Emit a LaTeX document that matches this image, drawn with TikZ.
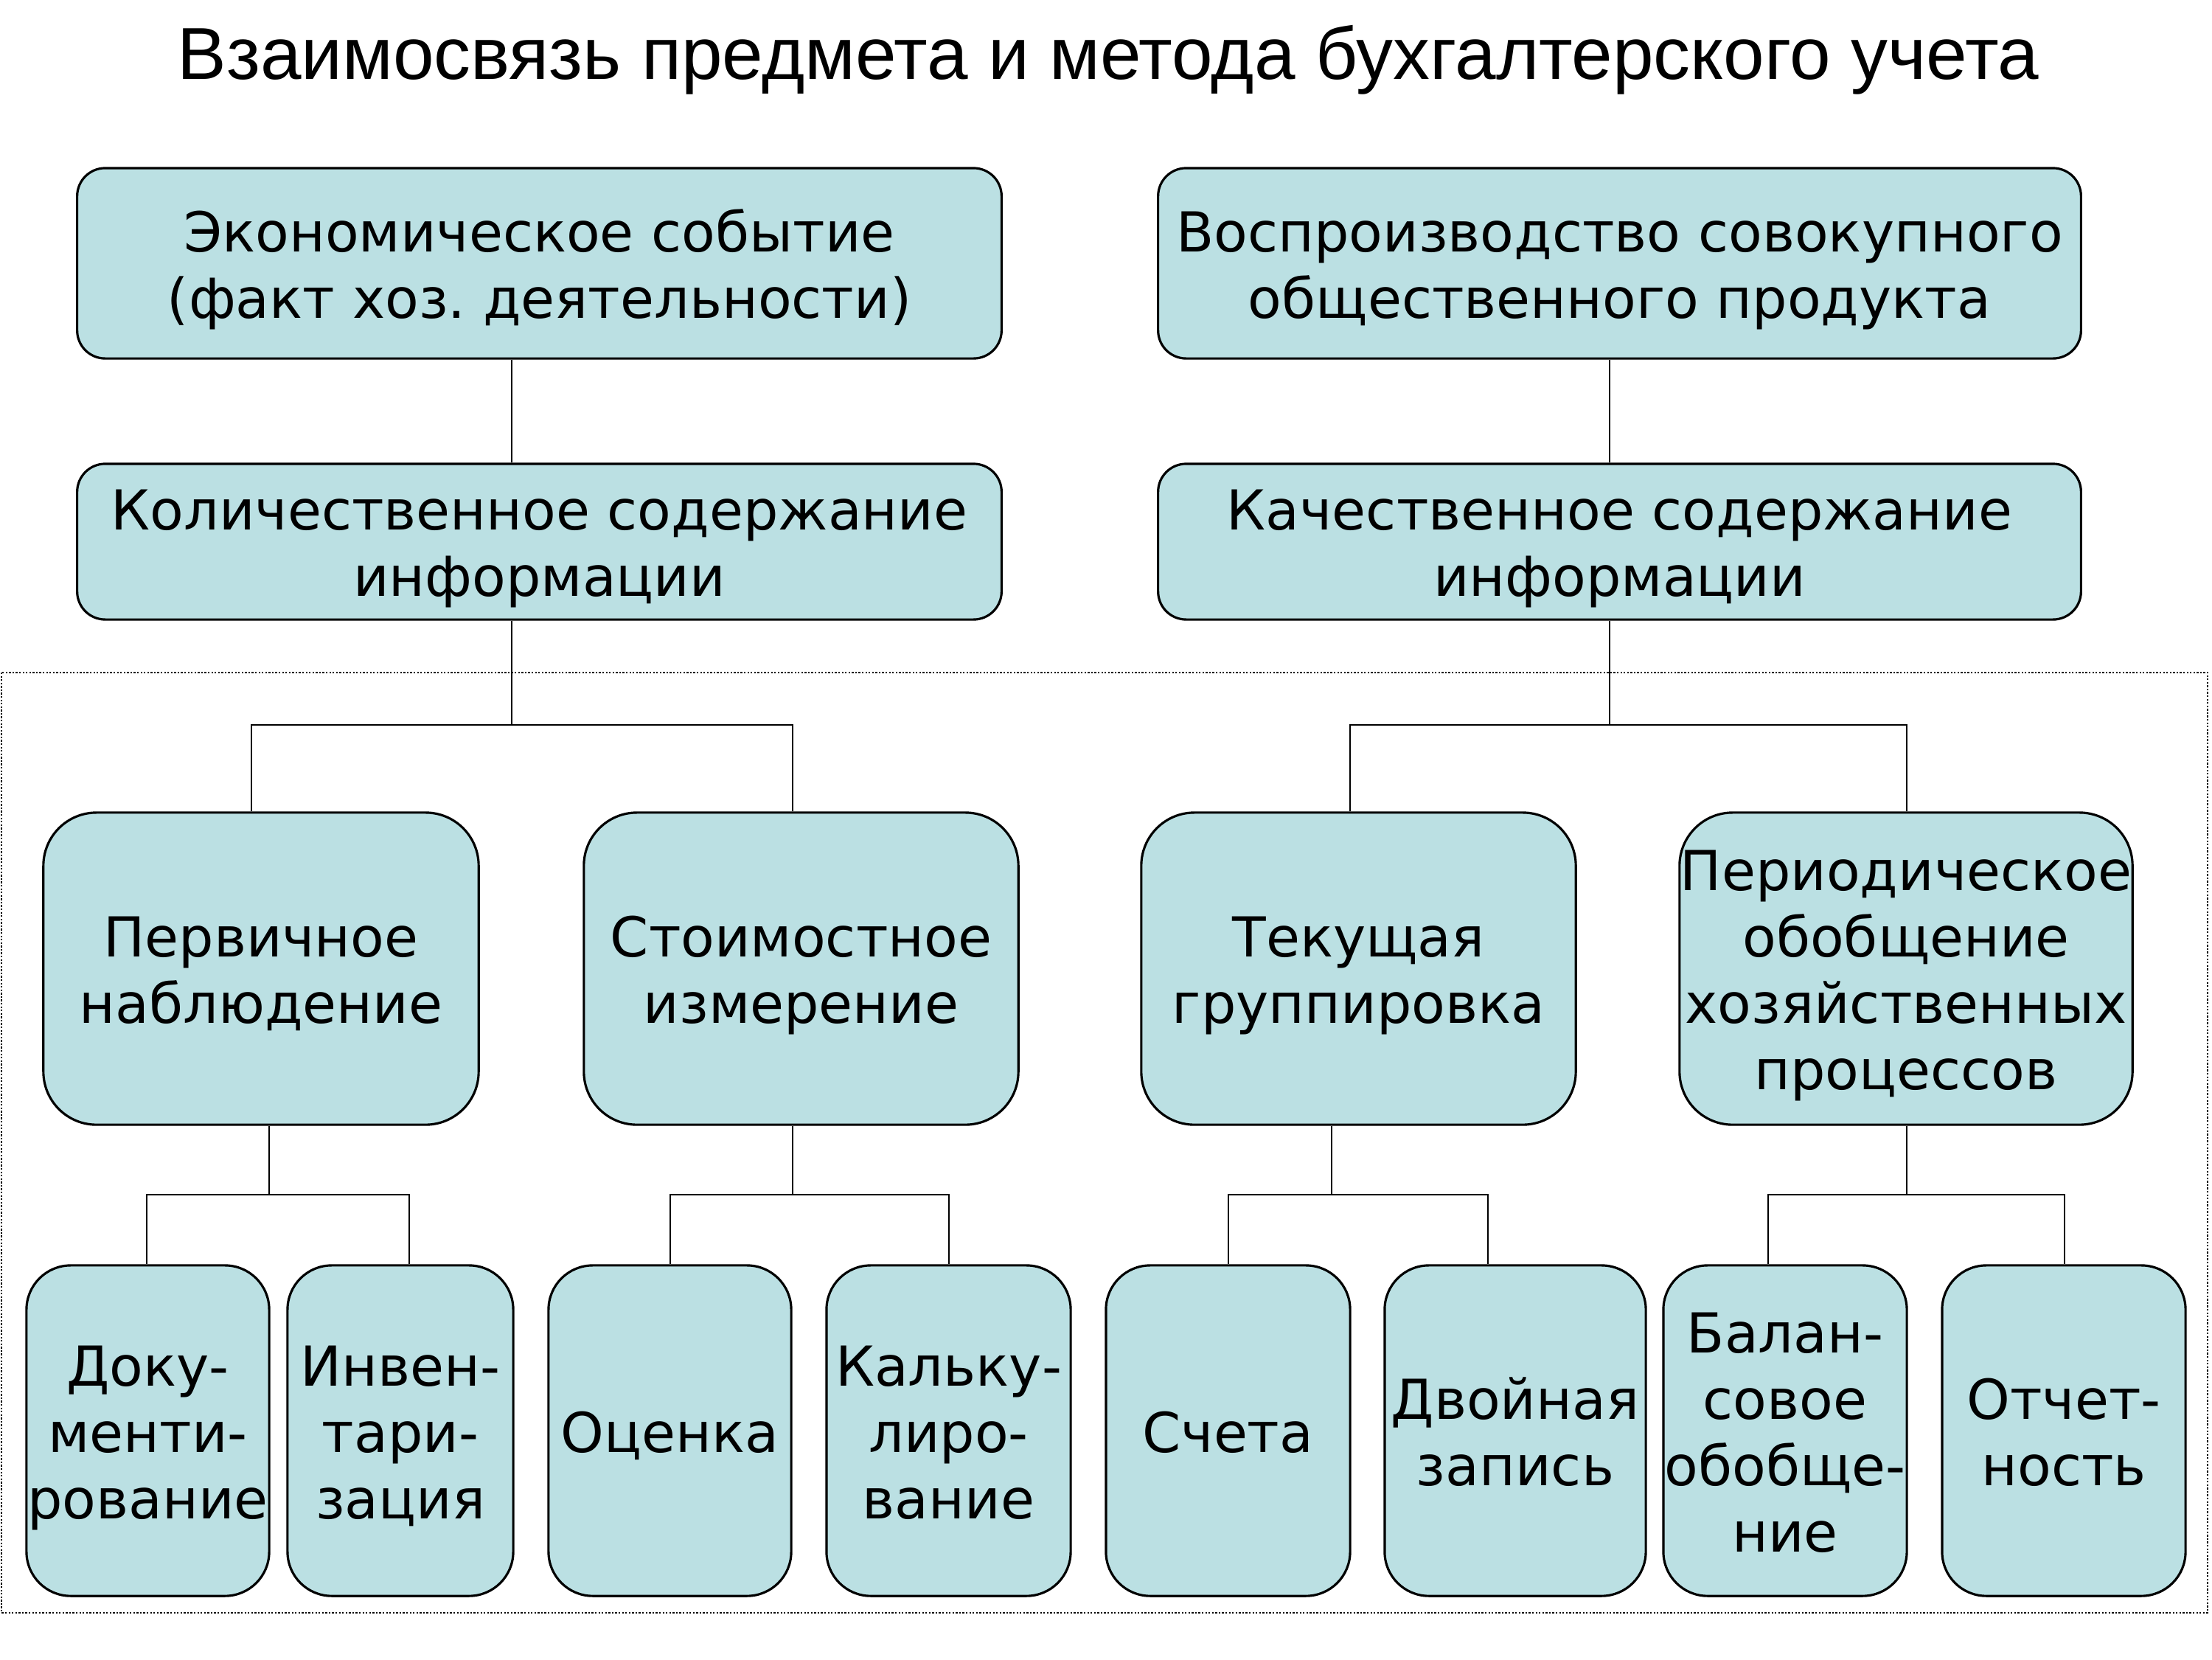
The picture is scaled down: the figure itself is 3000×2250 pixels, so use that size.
\documentclass[tikz,border=0pt]{standalone}
\usepackage{fontspec}
\setmainfont{DejaVu Sans}
\newfontfamily\titlefont{Liberation Sans}
\definecolor{boxfill}{HTML}{BBE0E3}
\newcommand\tS{\rule{0pt}{21pt}}
\newcommand\bS{\rule[-4.5pt]{0pt}{4.5pt}}
\begin{document}
\begin{tikzpicture}[x=0.01cm,y=-0.01cm,
  box/.style={draw=black, line width=0.9pt, fill=boxfill, align=center, inner sep=0pt,
    font=\fontsize{21.25}{25.6}\selectfont},
  boxA/.style={box, rounded corners=0.38cm, minimum height=2.58cm},
  boxB/.style={box, rounded corners=0.38cm, minimum height=2.11cm},
  boxC/.style={box, rounded corners=0.72cm, minimum height=4.23cm},
  boxD/.style={box, rounded corners=0.6cm, minimum height=4.48cm},
  conn/.style={draw=black, line width=0.6pt}]
\useasboundingbox (0,0) rectangle (3000,2250);
% dotted frame
\draw[line width=0.65pt, dash pattern=on 0.65pt off 0.65pt] (2,912) rectangle (2994,2187);
% title
\node[anchor=base, inner sep=0pt, font=\titlefont\fontsize{28.4}{32}\selectfont] (title) at (1503,107)
  {Взаимосвязь предмета и метода бухгалтерского учета};
% row 1
\node[boxA, minimum width=12.53cm] (e1) at (731.5,357) {\tS Экономическое событие\\(факт хоз.\ деятельности)\bS};
\node[boxA, minimum width=12.51cm] (e2) at (2196.5,357) {\tS Воспроизводство совокупного\\общественного продукта\bS};
% row 2
\node[boxB, minimum width=12.53cm] (q1) at (731.5,734.5) {\tS Количественное содержание\\информации\bS};
\node[boxB, minimum width=12.51cm] (q2) at (2196.5,734.5) {\tS Качественное содержание\\информации\bS};
% row 3
\node[boxC, minimum width=5.90cm] (p1) at (354,1313.5) {\tS Первичное\\наблюдение\bS};
\node[boxC, minimum width=5.89cm] (p2) at (1086.5,1313.5) {\tS Стоимостное\\измерение\bS};
\node[boxC, minimum width=5.89cm] (p3) at (1842.5,1313.5) {\tS Текущая\\группировка\bS};
\node[boxC, minimum width=6.14cm] (p4) at (2585,1313.5) {\tS Периодическое\\обобщение\\хозяйственных\\процессов\bS};
% row 4
\node[boxD, minimum width=3.29cm] (l1) at (200.5,1940) {\tS Доку-\\менти-\\рование\bS};
\node[boxD, minimum width=3.06cm] (l2) at (543,1940) {\tS Инвен-\\тари-\\зация\bS};
\node[boxD, minimum width=3.29cm] (l3) at (908.5,1940) {\tS Оценка\bS};
\node[boxD, minimum width=3.31cm] (l4) at (1286.5,1940) {\tS Кальку-\\лиро-\\вание\bS};
\node[boxD, minimum width=3.31cm] (l5) at (1665.5,1940) {\tS Счета\bS};
\node[boxD, minimum width=3.54cm] (l6) at (2055,1940) {\tS Двойная\\запись\bS};
\node[boxD, minimum width=3.30cm] (l7) at (2421,1940) {\tS Балан-\\совое\\обобще-\\ние\bS};
\node[boxD, minimum width=3.30cm] (l8) at (2799,1940) {\tS Отчет-\\ность\bS};
% junction coordinates
\coordinate (a1) at (694,0);
\coordinate (a2) at (2183,0);
\coordinate (j1) at (694,983);
\coordinate (j2) at (2183,983);
\coordinate (k1) at (365,1620);
\coordinate (k2) at (1075,1620);
\coordinate (k3) at (1806,1620);
\coordinate (k4) at (2586,1620);
\coordinate (x341) at (341,0);
\coordinate (x1075) at (1075,0);
\coordinate (x1831) at (1831,0);
\coordinate (x2586) at (2586,0);
\coordinate (x199) at (199,0);
\coordinate (x555) at (555,0);
\coordinate (x909) at (909,0);
\coordinate (x1287) at (1287,0);
\coordinate (x1666) at (1666,0);
\coordinate (x2018) at (2018,0);
\coordinate (x2398) at (2398,0);
\coordinate (x2800) at (2800,0);
% connectors row1-row2
\draw[conn] (e1.south -| a1) -- (q1.north -| a1);
\draw[conn] (e2.south -| a2) -- (q2.north -| a2);
% row2 - row3
\draw[conn] (q1.south -| a1) -- (j1);
\draw[conn] (p1.north -| x341) |- (j1) -| (p2.north -| x1075);
\draw[conn] (q2.south -| a2) -- (j2);
\draw[conn] (p3.north -| x1831) |- (j2) -| (p4.north -| x2586);
% row3 - row4
\draw[conn] (p1.south -| k1) -- (k1);
\draw[conn] (l1.north -| x199) |- (k1) -| (l2.north -| x555);
\draw[conn] (p2.south -| k2) -- (k2);
\draw[conn] (l3.north -| x909) |- (k2) -| (l4.north -| x1287);
\draw[conn] (p3.south -| k3) -- (k3);
\draw[conn] (l5.north -| x1666) |- (k3) -| (l6.north -| x2018);
\draw[conn] (p4.south -| k4) -- (k4);
\draw[conn] (l7.north -| x2398) |- (k4) -| (l8.north -| x2800);
\end{tikzpicture}
\end{document}
